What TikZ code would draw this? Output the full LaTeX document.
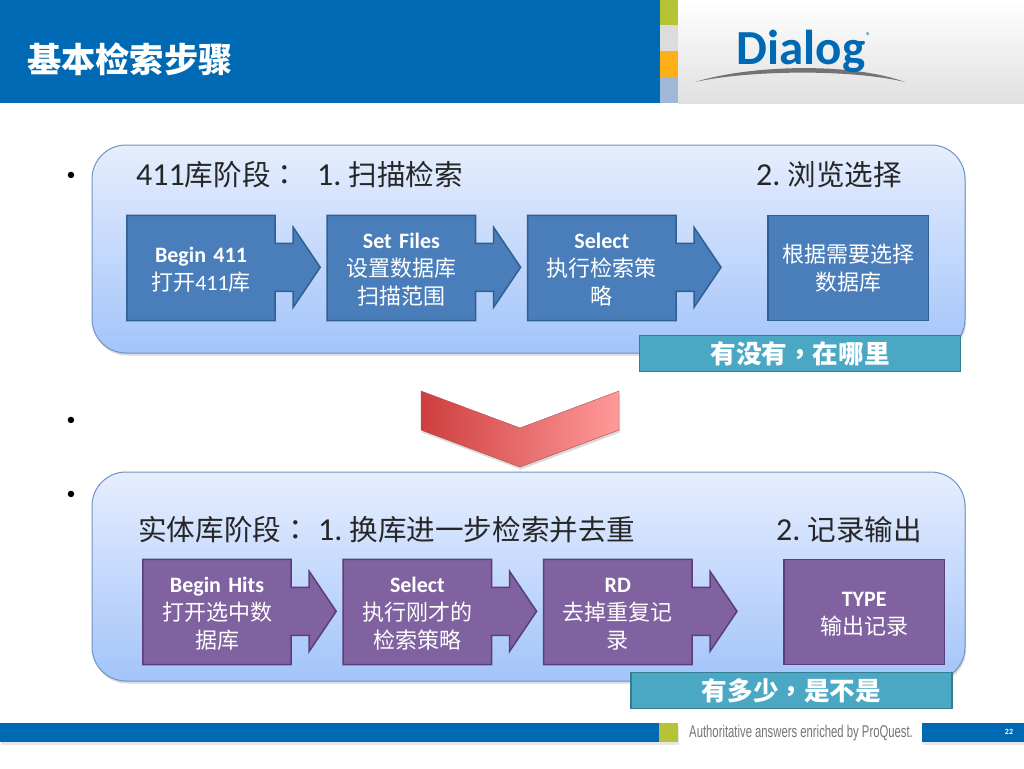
\documentclass[tikz,border=0pt]{standalone}
\usepackage{fontspec}
\setmainfont{Carlito}
\newfontfamily\cjk{Noto Sans CJK SC}
\newfontfamily\cjkp{Noto Sans CJK TC}
\newfontfamily\tagfont[FakeStretch=0.665]{Liberation Sans}
\newcommand{\cn}[1]{{\fontsize{22}{28}\selectfont\cjk #1}}
\newcommand{\hd}[1]{{\fontsize{28.6}{34}\selectfont\cjk #1}}
\usetikzlibrary{positioning,shadows,backgrounds}
\definecolor{dialogblue}{HTML}{0069B4}
\definecolor{stepblue}{HTML}{4A7EBB}
\definecolor{stepblueline}{HTML}{2F5F93}
\definecolor{steppurple}{HTML}{8062A0}
\definecolor{steppurpleline}{HTML}{5B3F7C}
\definecolor{tealfill}{HTML}{4BA8C4}
\definecolor{tealline}{HTML}{357D91}
\definecolor{paneltop}{HTML}{E6EEFE}
\definecolor{panelbot}{HTML}{A3C4FA}
\definecolor{panelline}{HTML}{6F93C2}
\definecolor{stripgreen}{HTML}{B5C334}
\definecolor{stripgray}{HTML}{DCDCDC}
\definecolor{striporange}{HTML}{FDB017}
\definecolor{stripblue}{HTML}{A0B8D8}
\definecolor{chevleft}{HTML}{CE3E3E}
\definecolor{chevright}{HTML}{FF9A9A}
\begin{document}
\begin{tikzpicture}[
  x=1pt, y=-1pt,
  panel/.style={draw=panelline, line width=1pt, rounded corners=34pt, top color=paneltop,
                bottom color=panelbot, minimum width=873pt, minimum height=208pt,
                inner sep=0pt, drop shadow={shadow xshift=1pt, shadow yshift=-2.5pt, opacity=.3}},
  stepA/.style={text=white, font=\fontsize{22}{28}\selectfont, align=center, inner sep=0pt,
                minimum width=148pt, minimum height=105pt, text width=130pt,
                execute at begin node={\rule{0pt}{19pt}}},
  stepB/.style={stepA},
  shapeA/.style={fill=stepblue, draw=stepblueline, line width=1.5pt, line join=miter},
  shapeB/.style={fill=steppurple, draw=steppurpleline, line width=1.5pt, line join=miter},
  note/.style={fill=tealfill, draw=tealline, line width=1.5pt, text=white, inner sep=0pt,
               minimum width=321pt, minimum height=36pt, font=\fontsize{25.6}{28}\selectfont\bfseries\cjk},
  head/.style={font=\fontsize{32}{36}\selectfont, anchor=west, inner sep=0pt, text=black!85},
  dot/.style={font=\fontsize{18}{22}\selectfont, inner sep=0pt},
  bar/.style={drop shadow={shadow xshift=1pt, shadow yshift=-2.5pt, opacity=.2}},
]
\useasboundingbox (0,0) rectangle (1024,768);

%% -- HEADER ------------------------------------------------------------------
\fill[dialogblue] (0,0) rectangle (660,103);
\shade[top color=white, middle color=white!97!black, bottom color=black!12] (678,0) rectangle (1024,103);
\fill[stripgreen] (660,0) rectangle (678,25);
\fill[stripgray] (660,25) rectangle (678,51);
\fill[striporange] (660,51) rectangle (678,77);
\fill[stripblue] (660,77) rectangle (678,103);
\node[font=\fontsize{34.2}{38}\selectfont\bfseries\cjk, text=white, anchor=west, inner sep=0pt] (title) at (27,59) {基本检索步骤};

%% -- LOGO --------------------------------------------------------------------
\fill[black!55] (695,82) .. controls (750,65) and (850,62) .. (905,82) .. controls (850,69) and (750,70) .. (695,82) -- cycle;
\node[font=\fontsize{49}{52}\selectfont\bfseries, text=dialogblue, inner sep=0pt] (logo) at (801,51) {Dialog};
\node[font=\fontsize{10}{11}\selectfont, text=dialogblue, inner sep=0pt, right=0pt of logo.north east, yshift=-7pt] (reg) {®};

%% -- BULLETS -----------------------------------------------------------------
\node[dot] (b1) at (71,176) {•};
\node[dot] (b2) at (71,421) {•};
\node[dot] (b3) at (71,495) {•};

%% -- PANEL A: 411 ------------------------------------------------------------
\node[head] (headA)  at (136,175) {411\hd{库阶段}{\fontsize{28.6}{34}\selectfont\cjkp ：}};
\node[head] (headA1) at (317,175) {1.\hspace{7pt}\hd{扫描检索}};
\node[head] (headA2) at (756,175) {2.\hspace{7pt}\hd{浏览选择}};

\node[stepA] (open) at (201,268) {\textbf{Begin 411}\\\cn{打开}411\cn{库}};
\node[stepA, right=52pt of open] (files) {\textbf{Set Files}\\\cn{设置数据库}\\\cn{扫描范围}};
\node[stepA, right=52pt of files] (sel) {\textbf{Select}\\\cn{执行检索策}\\\cn{略}};
\node[stepA, right=92pt of sel, minimum width=160pt, text width=150pt] (pick) {\cn{根据需要选择}\\\cn{数据库}};
\node[note] (noteA) at (800,353.5) {有没有{\cjkp ，}在哪里};

%% -- CHEVRON -----------------------------------------------------------------
\draw[draw=red!50!black!70, left color=chevleft, right color=chevright, drop shadow={shadow xshift=1pt, shadow yshift=-2.5pt, opacity=.3}]
  (421,391) -- (520,428) -- (619,391) -- (619,430) -- (520,467) -- (421,430) -- cycle;

%% -- PANEL B: HITS -----------------------------------------------------------
\node[head] (headB)  at (138,530) {\hd{实体库阶段}{\fontsize{28.6}{34}\selectfont\cjkp ：}};
\node[head] (headB1) at (318,530) {1.\hspace{7pt}\hd{换库进一步检索并去重}};
\node[head] (headB2) at (776,530) {2.\hspace{7pt}\hd{记录输出}};

\node[stepB] (hits) at (217,612) {\textbf{Begin Hits}\\\cn{打开选中数}\\\cn{据库}};
\node[stepB, right=52pt of hits] (rerun) {\textbf{Select}\\\cn{执行刚才的}\\\cn{检索策略}};
\node[stepB, right=52pt of rerun] (dedup) {\textbf{RD}\\\cn{去掉重复记}\\\cn{录}};
\node[stepB, right=92pt of dedup, minimum width=160pt, text width=150pt] (output) {\textbf{TYPE}\\\cn{输出记录}};
\node[note] (noteB) at (791.5,690.5) {有多少{\cjkp ，}是不是};

%% -- PANELS AND STEP SHAPES (behind the texts) -------------------------------
\begin{scope}[on background layer]
  \node[panel] (panelA) at (528.5,249) {};
  \node[panel, minimum height=209pt] (panelB) at (528.5,576.5) {};
  \foreach \n in {open,files,sel}
    \draw[shapeA] (\n.north west) -- (\n.north east) -- ++(0,28) -- ++(18,0) -- ++(0,-16) -- ++(27,40)
      -- ++(-27,40) -- ++(0,-16) -- ++(-18,0) -- (\n.south east) -- (\n.south west) -- cycle;
  \draw[shapeA] (pick.north west) rectangle (pick.south east);
  \foreach \n in {hits,rerun,dedup}
    \draw[shapeB] (\n.north west) -- (\n.north east) -- ++(0,28) -- ++(18,0) -- ++(0,-16) -- ++(27,40)
      -- ++(-27,40) -- ++(0,-16) -- ++(-18,0) -- (\n.south east) -- (\n.south west) -- cycle;
  \draw[shapeB] (output.north west) rectangle (output.south east);
\end{scope}

%% -- FOOTER ------------------------------------------------------------------
\fill[dialogblue, bar] (0,723) rectangle (659,742);
\fill[stripgreen, bar] (659,723) rectangle (678,742);
\fill[dialogblue, bar] (922,723) rectangle (1024,742);
\node[font=\fontsize{17}{19}\selectfont\tagfont, text=black!55, anchor=west, inner sep=0pt] (tagline) at (689,733) {Authoritative answers enriched by ProQuest.};
\node[font=\fontsize{8}{9}\selectfont\bfseries, text=white, inner sep=0pt] (page) at (1009,732) {22};
\end{tikzpicture}
\end{document}
